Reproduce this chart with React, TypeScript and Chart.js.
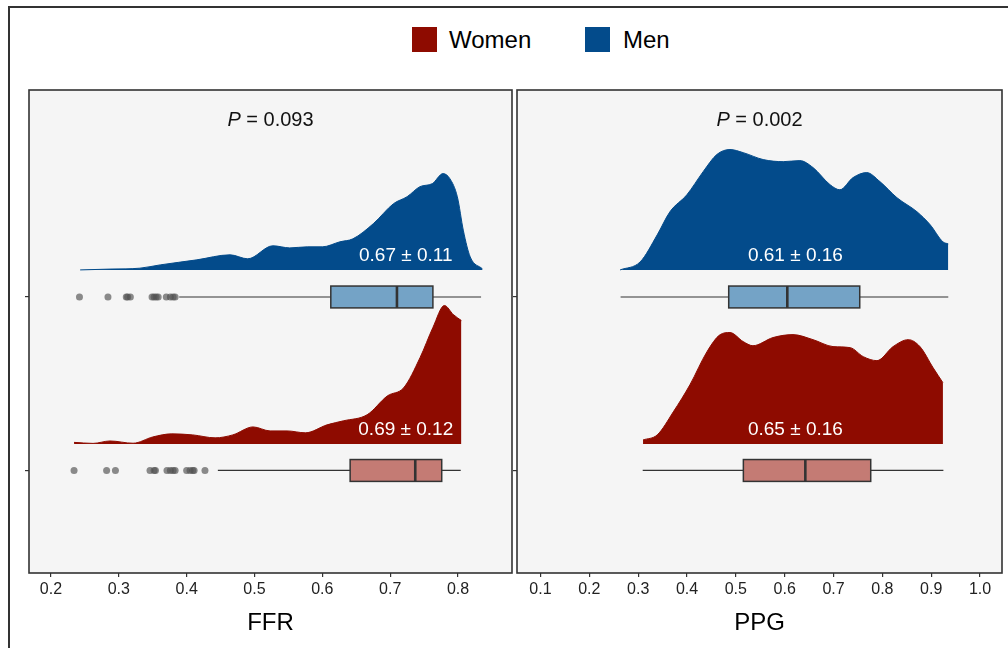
import React, { useEffect, useRef } from "react";
import { Chart, registerables } from "chart.js";

Chart.register(...registerables);

const FONT = "'Liberation Sans', Arial, Helvetica, sans-serif";

// ---------- categories / colours ----------
const GROUPS = ["Women", "Men"];
const GROUP_POS = [1, 2];
const GROUP_COLORS = ["#8e0b00", "#034b8b"];
const BOX_COLORS = ["#c47b74", "#74a3c6"];

// ---------- tick labels ----------
const FFR_TICKS = [0.2, 0.3, 0.4, 0.5, 0.6, 0.7, 0.8];
const PPG_TICKS = [0.1, 0.2, 0.3, 0.4, 0.5, 0.6, 0.7, 0.8, 0.9, 1.0];

// ---------- FFR densities ----------
const FFR_WOMEN_X = [0.234, 0.262, 0.287, 0.321, 0.35, 0.378, 0.409, 0.442, 0.468, 0.498, 0.523, 0.548, 0.575, 0.607, 0.631, 0.666, 0.696, 0.72, 0.744, 0.763, 0.78, 0.793, 0.805];
const FFR_WOMEN_D = [0.009, 0.003, 0.017, 0.004, 0.04, 0.058, 0.052, 0.035, 0.052, 0.098, 0.075, 0.075, 0.064, 0.11, 0.133, 0.168, 0.277, 0.324, 0.497, 0.671, 0.798, 0.746, 0.711];
const FFR_MEN_X = [0.243, 0.29, 0.331, 0.361, 0.415, 0.464, 0.49, 0.527, 0.552, 0.578, 0.6, 0.626, 0.645, 0.675, 0.705, 0.725, 0.744, 0.762, 0.778, 0.788, 0.799, 0.808, 0.818, 0.836];
const FFR_MEN_D = [0.0, 0.005, 0.01, 0.029, 0.058, 0.087, 0.064, 0.139, 0.127, 0.133, 0.133, 0.162, 0.179, 0.266, 0.382, 0.422, 0.48, 0.497, 0.555, 0.526, 0.422, 0.225, 0.075, 0.006];

// ---------- PPG densities ----------
const PPG_WOMEN_X = [0.31, 0.339, 0.372, 0.406, 0.441, 0.468, 0.488, 0.515, 0.535, 0.576, 0.617, 0.658, 0.699, 0.734, 0.761, 0.789, 0.822, 0.853, 0.877, 0.904, 0.924];
const PPG_WOMEN_D = [0.023, 0.052, 0.185, 0.341, 0.532, 0.63, 0.642, 0.59, 0.566, 0.613, 0.63, 0.601, 0.561, 0.555, 0.503, 0.48, 0.561, 0.601, 0.561, 0.439, 0.353];
const PPG_MEN_X = [0.263, 0.304, 0.339, 0.365, 0.4, 0.433, 0.461, 0.488, 0.515, 0.556, 0.597, 0.631, 0.658, 0.693, 0.713, 0.74, 0.768, 0.795, 0.83, 0.871, 0.898, 0.924, 0.935];
const PPG_MEN_D = [0.0, 0.046, 0.202, 0.335, 0.434, 0.566, 0.665, 0.694, 0.676, 0.636, 0.624, 0.63, 0.59, 0.491, 0.462, 0.532, 0.561, 0.509, 0.416, 0.335, 0.26, 0.162, 0.15];

// ---------- boxplots: [lower whisker, Q1, median, Q3, upper whisker] ----------
const FFR_WOMEN_BOX = [0.446, 0.641, 0.737, 0.776, 0.804];
const FFR_MEN_BOX = [0.389, 0.6125, 0.71, 0.763, 0.834];
const PPG_WOMEN_BOX = [0.3093, 0.5154, 0.6423, 0.7762, 0.925];
const PPG_MEN_BOX = [0.264, 0.4854, 0.6054, 0.7537, 0.935];

// ---------- outliers ----------
const FFR_WOMEN_OUT = [0.234, 0.282, 0.295, 0.346, 0.352, 0.354, 0.371, 0.376, 0.38, 0.383, 0.4, 0.405, 0.409, 0.411, 0.427];
const FFR_MEN_OUT = [0.242, 0.284, 0.311, 0.313, 0.317, 0.349, 0.352, 0.355, 0.358, 0.37, 0.376, 0.38, 0.383];
const PPG_WOMEN_OUT: number[] = [];
const PPG_MEN_OUT: number[] = [];

// ---------- annotations ----------
const FFR_MEAN_LABELS = ["0.69 ± 0.12", "0.67 ± 0.11"];
const PPG_MEAN_LABELS = ["0.65 ± 0.16", "0.61 ± 0.16"];
const FFR_LABEL_X = 0.723;
const PPG_LABEL_X = 0.622;
const FFR_P = "0.093";
const PPG_P = "0.002";

// layout-ish constants (styles, not data)
const DENSITY_BASE_OFFSET = [0.153, 0.156];
const BOX_HALF = 0.063;
const LABEL_OFFSET = 0.079;
const Y_MIN = 0.409;
const Y_MAX = 3.193;

const PANELS = [
  {
    title: "FFR",
    ticks: FFR_TICKS,
    min: 0.1676,
    max: 0.8796,
    p: FFR_P,
    labelX: FFR_LABEL_X,
    left: 20,
    padRight: 8,
    groups: [
      { densX: FFR_WOMEN_X, densD: FFR_WOMEN_D, box: FFR_WOMEN_BOX, out: FFR_WOMEN_OUT, label: FFR_MEAN_LABELS[0] },
      { densX: FFR_MEN_X, densD: FFR_MEN_D, box: FFR_MEN_BOX, out: FFR_MEN_OUT, label: FFR_MEAN_LABELS[1] },
    ],
  },
  {
    title: "PPG",
    ticks: PPG_TICKS,
    min: 0.0519,
    max: 1.045,
    p: PPG_P,
    labelX: PPG_LABEL_X,
    left: 508,
    padRight: 6,
    groups: [
      { densX: PPG_WOMEN_X, densD: PPG_WOMEN_D, box: PPG_WOMEN_BOX, out: PPG_WOMEN_OUT, label: PPG_MEAN_LABELS[0] },
      { densX: PPG_MEN_X, densD: PPG_MEN_D, box: PPG_MEN_BOX, out: PPG_MEN_OUT, label: PPG_MEAN_LABELS[1] },
    ],
  },
];

function Panel({ panel }: { panel: any }) {
  const ref = useRef<HTMLCanvasElement | null>(null);

  useEffect(() => {
    if (!ref.current) return;
    const datasets: any[] = [];
    panel.groups.forEach((g: any, i: number) => {
      const base = GROUP_POS[i] + DENSITY_BASE_OFFSET[i];
      datasets.push({
        label: GROUPS[i],
        data: g.densX.map((x: number, k: number) => ({ x, y: base + g.densD[k] })),
        showLine: true,
        borderColor: GROUP_COLORS[i],
        backgroundColor: GROUP_COLORS[i],
        borderWidth: 1,
        pointRadius: 0,
        cubicInterpolationMode: "monotone",
        fill: { value: base },
      });
      datasets.push({
        label: GROUPS[i] + " outliers",
        data: g.out.map((x: number) => ({ x, y: GROUP_POS[i] })),
        showLine: false,
        pointRadius: 3.5,
        pointBackgroundColor: "rgba(80,80,80,0.66)",
        pointBorderWidth: 0,
        borderWidth: 0,
      });
    });

    const panelPlugin = {
      id: "panelDeco",
      beforeDraw(chart: any) {
        const { ctx, chartArea } = chart;
        ctx.save();
        ctx.fillStyle = "#f5f5f5";
        ctx.fillRect(chartArea.left, chartArea.top, chartArea.right - chartArea.left, chartArea.bottom - chartArea.top);
        ctx.restore();
      },
      afterDatasetsDraw(chart: any) {
        const { ctx, chartArea } = chart;
        const xs = chart.scales.x;
        const ys = chart.scales.y;
        ctx.save();
        panel.groups.forEach((g: any, i: number) => {
          const [wlo, q1, med, q3, whi] = g.box;
          const yc = ys.getPixelForValue(GROUP_POS[i]);
          const yt = ys.getPixelForValue(GROUP_POS[i] + BOX_HALF);
          const yb = ys.getPixelForValue(GROUP_POS[i] - BOX_HALF);
          const px = (v: number) => xs.getPixelForValue(v);
          ctx.strokeStyle = "#333333";
          ctx.lineWidth = 1.2;
          ctx.beginPath();
          ctx.moveTo(px(wlo), yc);
          ctx.lineTo(px(q1), yc);
          ctx.moveTo(px(q3), yc);
          ctx.lineTo(px(whi), yc);
          ctx.stroke();
          ctx.fillStyle = BOX_COLORS[i];
          ctx.fillRect(px(q1), yt, px(q3) - px(q1), yb - yt);
          ctx.lineWidth = 1.5;
          ctx.strokeRect(px(q1), yt, px(q3) - px(q1), yb - yt);
          ctx.lineWidth = 2.6;
          ctx.beginPath();
          ctx.moveTo(px(med), yt);
          ctx.lineTo(px(med), yb);
          ctx.stroke();

          // mean ± sd label
          const base = GROUP_POS[i] + DENSITY_BASE_OFFSET[i];
          ctx.fillStyle = "#ffffff";
          ctx.font = `19px ${FONT}`;
          ctx.textAlign = "center";
          ctx.textBaseline = "middle";
          ctx.fillText(g.label, px(panel.labelX), ys.getPixelForValue(base + LABEL_OFFSET));
        });

        // P value
        const cx = (chartArea.left + chartArea.right) / 2;
        const cy = chartArea.top + 30;
        ctx.fillStyle = "#111111";
        ctx.textBaseline = "middle";
        ctx.font = `italic 20px ${FONT}`;
        const wP = ctx.measureText("P").width;
        ctx.font = `20px ${FONT}`;
        const rest = " = " + panel.p;
        const wR = ctx.measureText(rest).width;
        const start = cx - (wP + wR) / 2;
        ctx.textAlign = "left";
        ctx.font = `italic 20px ${FONT}`;
        ctx.fillText("P", start, cy);
        ctx.font = `20px ${FONT}`;
        ctx.fillText(rest, start + wP, cy);
        ctx.restore();
      },
      afterDraw(chart: any) {
        const { ctx, chartArea } = chart;
        ctx.save();
        ctx.strokeStyle = "#333333";
        ctx.lineWidth = 1.6;
        ctx.strokeRect(chartArea.left, chartArea.top, chartArea.right - chartArea.left, chartArea.bottom - chartArea.top);
        ctx.restore();
      },
    };

    const chart = new Chart(ref.current, {
      type: "scatter",
      data: { datasets },
      options: {
        animation: false,
        responsive: false,
        devicePixelRatio: 1,
        layout: { padding: { top: 10, right: panel.padRight, left: 0, bottom: 0 } },
        plugins: { legend: { display: false }, tooltip: { enabled: false }, title: { display: false } },
        scales: {
          x: {
            type: "linear",
            min: panel.min,
            max: panel.max,
            afterBuildTicks: (scale: any) => {
              scale.ticks = panel.ticks.map((v: number) => ({ value: v }));
            },
            afterFit: (scale: any) => {
              scale.height = 75;
            },
            grid: { drawOnChartArea: false, drawTicks: true, tickLength: 4, color: "#333333", lineWidth: 1.2 },
            border: { display: false },
            ticks: {
              autoSkip: false,
              maxRotation: 0,
              padding: 3,
              color: "#222222",
              font: { family: FONT, size: 16 },
              callback: (v: any) => Number(v).toFixed(1),
            },
            title: {
              display: true,
              text: panel.title,
              color: "#000000",
              font: { family: FONT, size: 24 },
              padding: { top: 0, bottom: 10 },
            },
          },
          y: {
            type: "linear",
            min: Y_MIN,
            max: Y_MAX,
            afterBuildTicks: (scale: any) => {
              scale.ticks = GROUP_POS.map((v) => ({ value: v }));
            },
            afterFit: (scale: any) => {
              scale.width = 9;
            },
            grid: { drawOnChartArea: false, drawTicks: true, tickLength: 4, color: "#333333", lineWidth: 1.2 },
            border: { display: false },
            ticks: { callback: () => "", padding: 0, font: { size: 1 } },
          },
        },
      },
      plugins: [panelPlugin],
    } as any);
    return () => chart.destroy();
  }, [panel]);

  return (
    <canvas
      ref={ref}
      width={500}
      height={568}
      style={{ position: "absolute", left: panel.left, top: 80, width: 500, height: 568 }}
    />
  );
}

export default function App() {
  return (
    <div style={{ position: "fixed", left: 0, top: 0, width: 1008, height: 648, background: "#ffffff", overflow: "hidden" }}>
      <div
        style={{
          position: "absolute",
          left: 8,
          top: 6,
          width: 1008,
          height: 648,
          borderTop: "2px solid #333",
          borderLeft: "2px solid #333",
        }}
      />
      {GROUPS.map((g, i) => (
        <React.Fragment key={g}>
          <div
            style={{
              position: "absolute",
              left: i === 0 ? 412 : 585,
              top: 27,
              width: 25,
              height: 25,
              background: GROUP_COLORS[i],
            }}
          />
          <div
            style={{
              position: "absolute",
              left: i === 0 ? 449 : 623,
              top: 26,
              height: 28,
              lineHeight: "28px",
              fontFamily: FONT,
              fontSize: 24,
              color: "#000",
            }}
          >
            {g}
          </div>
        </React.Fragment>
      ))}
      {PANELS.map((p) => (
        <Panel key={p.title} panel={p} />
      ))}
    </div>
  );
}
